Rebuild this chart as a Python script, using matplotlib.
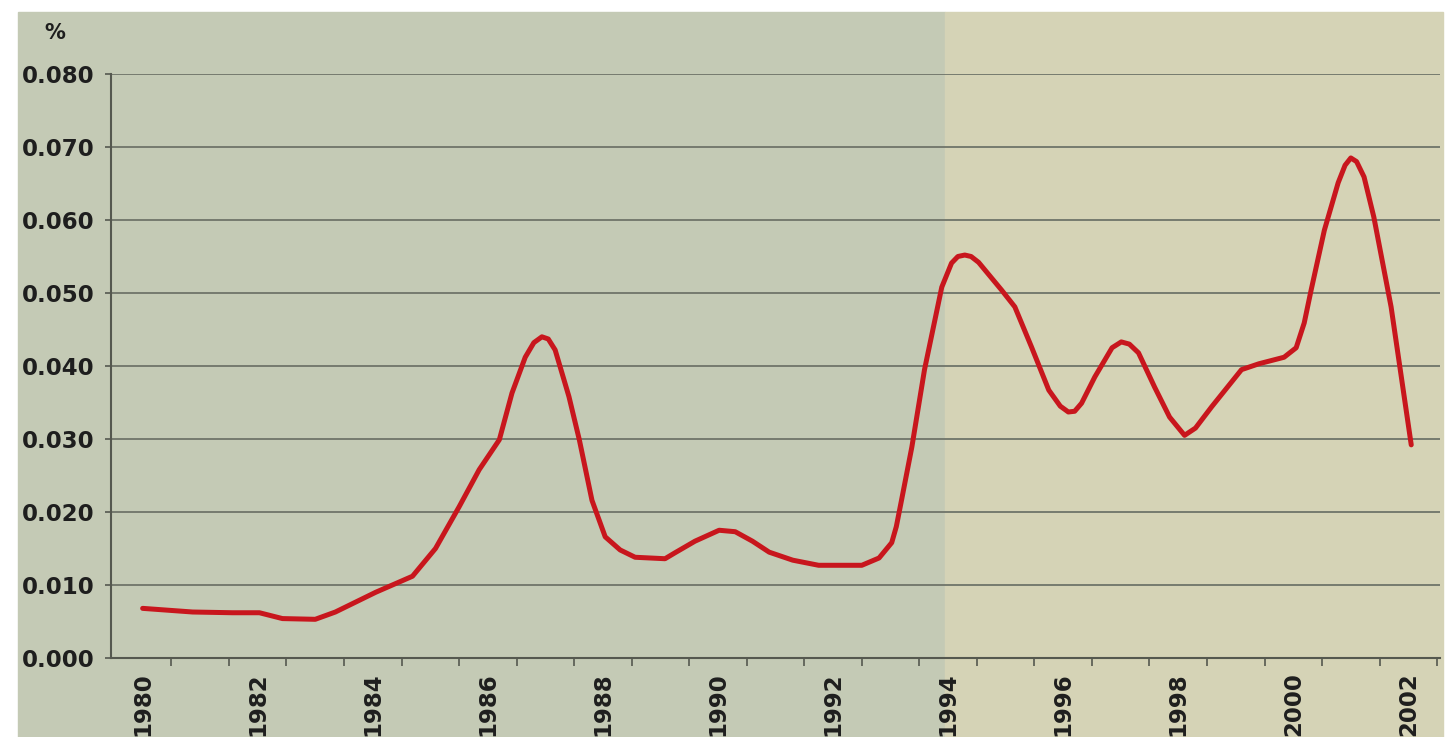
import matplotlib
matplotlib.use("Agg")
import matplotlib.pyplot as plt
import matplotlib.patches as patches
import numpy as np

# values (year, percent)
years = [1980.0, 1980.87, 1981.56, 1982.03, 1982.43, 1983.0, 1983.35, 1984.05,
         1984.69, 1985.09, 1985.5, 1985.85, 1986.2, 1986.42, 1986.65, 1986.8,
         1986.94, 1987.05, 1987.17, 1987.41, 1987.59, 1987.81, 1988.04, 1988.3,
         1988.56, 1989.08, 1989.25, 1989.6, 1990.02, 1990.3, 1990.6, 1990.89,
         1991.3, 1991.75, 1992.5, 1992.8, 1993.02, 1993.1, 1993.19, 1993.37,
         1993.59, 1993.89, 1994.06, 1994.17, 1994.29, 1994.4, 1994.53, 1994.93,
         1995.16, 1995.45, 1995.75, 1995.95, 1996.09, 1996.2, 1996.32, 1996.55,
         1996.85, 1997.01, 1997.15, 1997.31, 1997.59, 1997.85, 1998.11, 1998.3,
         1998.58, 1999.1, 1999.4, 1999.84, 2000.05, 2000.19, 2000.31, 2000.54,
         2000.78, 2000.9, 2001.0, 2001.1, 2001.23, 2001.4, 2001.7, 2002.05]
values = [0.0068, 0.0063, 0.0062, 0.0062, 0.0054, 0.0053, 0.0063, 0.0090,
          0.0112, 0.0150, 0.0207, 0.0258, 0.0299, 0.0363, 0.0412, 0.0432,
          0.0440, 0.0437, 0.0422, 0.0358, 0.0299, 0.0216, 0.0166, 0.0148,
          0.0138, 0.0136, 0.0144, 0.0160, 0.0175, 0.0173, 0.0160, 0.0145,
          0.0134, 0.0127, 0.0127, 0.0137, 0.0158, 0.0180, 0.0216, 0.0289,
          0.0395, 0.0508, 0.0541, 0.0550, 0.0552, 0.0550, 0.0542, 0.0504,
          0.0481, 0.0426, 0.0367, 0.0345, 0.0337, 0.0338, 0.0349, 0.0385,
          0.0425, 0.0433, 0.0430, 0.0418, 0.0371, 0.0330, 0.0305, 0.0315,
          0.0344, 0.0395, 0.0403, 0.0412, 0.0425, 0.0459, 0.0504, 0.0586,
          0.0651, 0.0675, 0.0685, 0.0680, 0.0659, 0.0604, 0.0481, 0.0292]

tick_years = list(range(1980, 2003, 2))
y_ticks = [0.0, 0.01, 0.02, 0.03, 0.04, 0.05, 0.06, 0.07, 0.08]

W, H = 1450, 737
fig = plt.figure(figsize=(W / 100, H / 100), dpi=100)
fig.patch.set_facecolor('white')

# two-tone paper background
fig.patches.append(patches.Rectangle((18 / W, 0), (945 - 18) / W, 1 - 12 / H,
                                     transform=fig.transFigure, color='#c4cab5', zorder=-10))
fig.patches.append(patches.Rectangle((945 / W, 0), (1443 - 945) / W, 1 - 12 / H,
                                     transform=fig.transFigure, color='#d5d3b6', zorder=-10))

ax = fig.add_axes([111 / W, 1 - 658 / H, (1440 - 111) / W, (658 - 74) / H])
ax.set_facecolor('none')

ax.plot(years, values, color='#c8161d', lw=3.6, solid_joinstyle='round',
        solid_capstyle='round', zorder=3)

ax.set_xlim(1979.45, 2002.55)
ax.set_ylim(0, 0.08)

tick_font = dict(family='DejaVu Sans', fontweight='bold', fontsize=16.5, color='#1e1e1e')

ax.set_yticks(y_ticks)
ax.set_yticklabels(['%.3f' % v for v in y_ticks], **tick_font)
ax.yaxis.grid(True, color='#6f7469', lw=1.3)
ax.set_axisbelow(True)

ax.set_xticks(tick_years)
ax.set_xticklabels([str(y) for y in tick_years], rotation=90, **tick_font)
ax.set_xticks(np.arange(1980.5, 2002.6, 1.0), minor=True)
ax.tick_params(axis='x', which='major', length=0, pad=10)
ax.tick_params(axis='x', which='minor', length=6, width=1.2, color='#55584f')
ax.tick_params(axis='y', length=4, width=1.2, color='#55584f', pad=8)

for s in ['top', 'right']:
    ax.spines[s].set_visible(False)
for s in ['left', 'bottom']:
    ax.spines[s].set_color('#55584f')
    ax.spines[s].set_linewidth(1.5)

fig.text(55 / W, 1 - 33 / H, '%', fontsize=15, fontweight='bold',
         family='DejaVu Sans', color='#1e1e1e', ha='center', va='center')

fig.savefig('out.png', dpi=100)
